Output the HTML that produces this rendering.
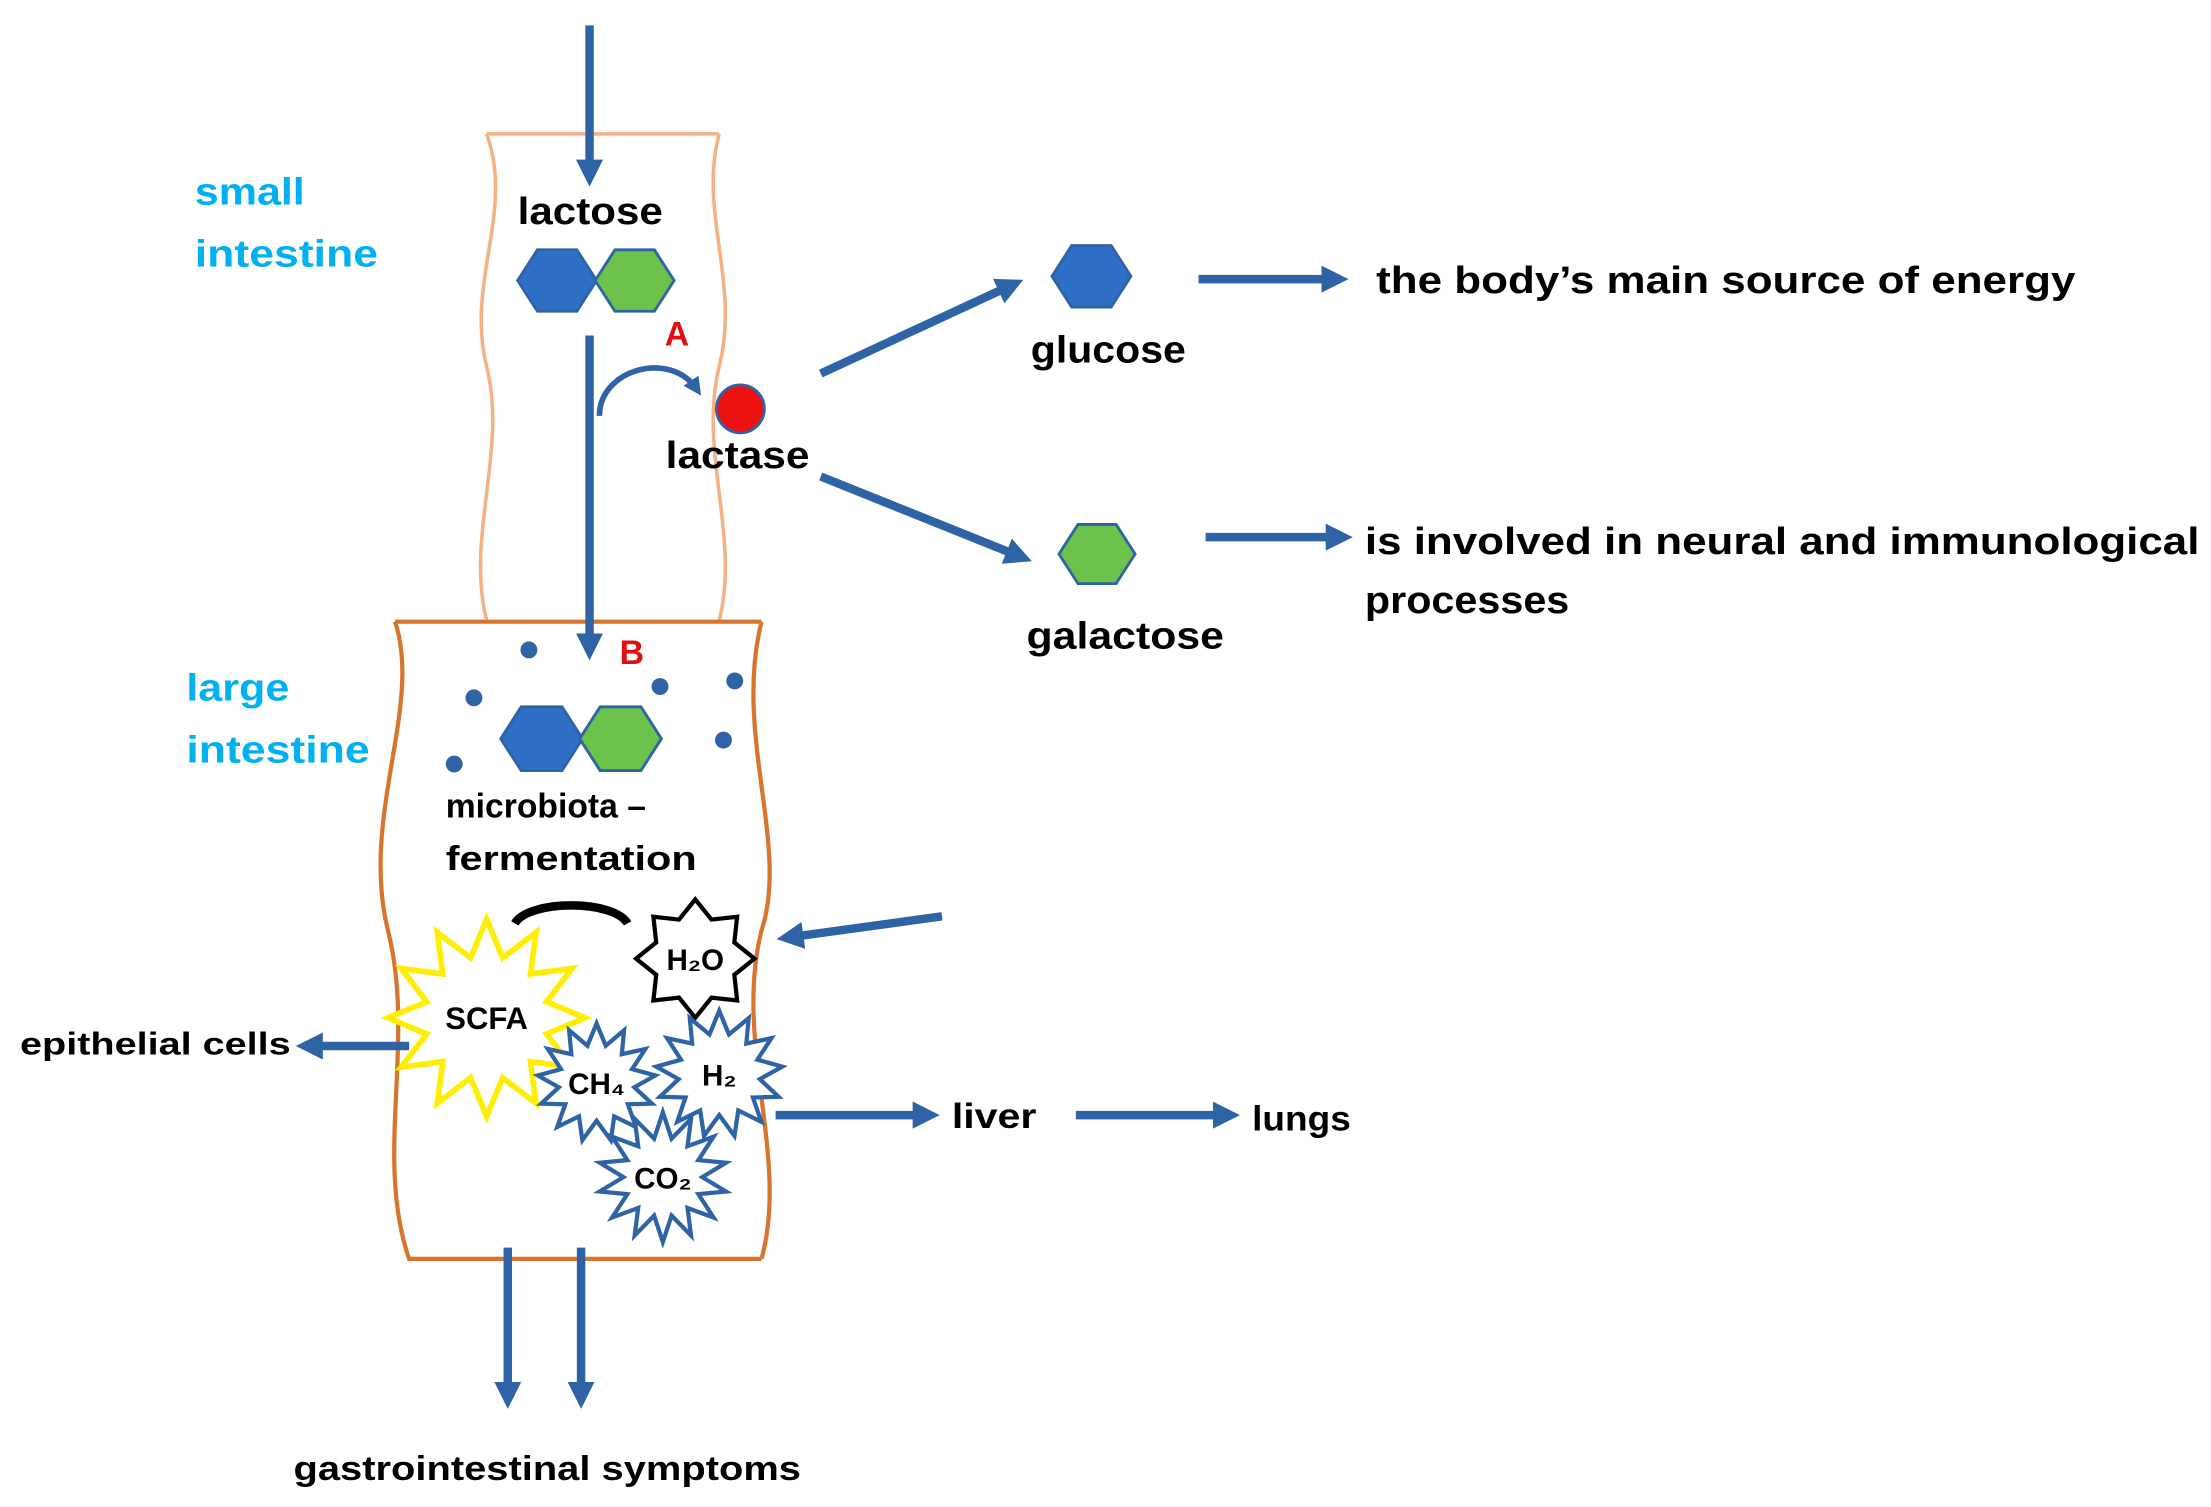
<!DOCTYPE html>
<html><head><meta charset="utf-8"><style>
html,body{margin:0;padding:0;background:#fff;}
svg{display:block;}
text{font-family:"Liberation Sans",sans-serif;font-weight:bold;}
</style></head><body>
<svg id="s" width="2211" height="1507" viewBox="0 0 1568 1069" xmlns="http://www.w3.org/2000/svg">
<defs>
<marker id="ar" markerWidth="3.2" markerHeight="3.2" refX="1.8" refY="1.6" orient="auto" markerUnits="strokeWidth">
<path d="M0,0 L3.2,1.6 L0,3.2 Z" fill="#2e63a6"/></marker>
</defs>
<g fill="none" stroke="#f4b183" stroke-width="2.5">
<path d="M345,95 C365,150 330,200 345,260 C360,320 330,380 345,440"/>
<path d="M510,95 C495,150 525,200 510,260 C495,320 525,380 510,440"/>
<path d="M345,95 L510,95"/>
</g>
<g fill="none" stroke="#d8742e" stroke-width="3">
<path d="M280,441 L540,441"/>
<path d="M280,441 C300,500 255,580 275,660 C295,740 265,820 290,893 L540,893"/>
<path d="M540,441 C520,520 560,600 540,660 C520,740 560,820 540,893"/>
</g>
<g stroke="#2e63a6" stroke-width="6" fill="none" marker-end="url(#ar)">
<line x1="418" y1="18" x2="418" y2="124"/>
<line x1="418" y1="238" x2="418" y2="460"/>
<path d="M425,295 C425,262 475,248 494,276" stroke-width="4"/>
<line x1="582" y1="265" x2="718" y2="202"/>
<line x1="582" y1="338" x2="724" y2="395"/>
<line x1="850" y1="198" x2="948" y2="198"/>
<line x1="855" y1="381" x2="951" y2="381"/>
<line x1="668" y1="650" x2="559" y2="665"/>
<line x1="290" y1="742" x2="218" y2="742"/>
<line x1="550" y1="791" x2="658" y2="791"/>
<line x1="763" y1="791" x2="871" y2="791"/>
<line x1="360" y1="885" x2="360" y2="991"/>
<line x1="412" y1="885" x2="412" y2="991"/>
</g>
<g id="hex"></g>
<circle cx="525" cy="290" r="17" fill="#ee1111" stroke="#2e63a6" stroke-width="2"/>
<g fill="#2e63a6"><circle cx="375" cy="461" r="6"/><circle cx="336" cy="495" r="6"/><circle cx="468" cy="487" r="6"/><circle cx="521" cy="483" r="6"/><circle cx="513" cy="525" r="6"/><circle cx="322" cy="542" r="6"/></g>
<path d="M365,655 C375,638 435,638 445,655" fill="none" stroke="#000" stroke-width="6"/>
<g id="stars"></g>
<g font-size="27" fill="#000" lengthAdjust="spacingAndGlyphs">
<text x="138" y="145" fill="#00b0f0" textLength="78" lengthAdjust="spacingAndGlyphs">small</text>
<text x="138" y="189" fill="#00b0f0" textLength="130" lengthAdjust="spacingAndGlyphs">intestine</text>
<text x="132" y="497" fill="#00b0f0" textLength="73" lengthAdjust="spacingAndGlyphs">large</text>
<text x="132" y="541" fill="#00b0f0" textLength="130" lengthAdjust="spacingAndGlyphs">intestine</text>
<text x="367" y="159" textLength="103" lengthAdjust="spacingAndGlyphs">lactose</text>
<text x="480" y="245" text-anchor="middle" fill="#e01010" font-size="24">A</text>
<text x="448" y="471" text-anchor="middle" fill="#e01010" font-size="24">B</text>
<text x="472" y="332" textLength="102" lengthAdjust="spacingAndGlyphs">lactase</text>
<text x="731" y="257" textLength="110" lengthAdjust="spacingAndGlyphs">glucose</text>
<text x="728" y="460" textLength="140" lengthAdjust="spacingAndGlyphs">galactose</text>
<text x="976" y="208" textLength="496" lengthAdjust="spacingAndGlyphs">the body’s main source of energy</text>
<text x="968" y="393" textLength="592" lengthAdjust="spacingAndGlyphs">is involved in neural and immunological</text>
<text x="968" y="435" textLength="145" lengthAdjust="spacingAndGlyphs">processes</text>
<text x="316" y="580" font-size="24" textLength="142" lengthAdjust="spacingAndGlyphs">microbiota –</text>
<text x="316" y="617" font-size="24" textLength="178" lengthAdjust="spacingAndGlyphs">fermentation</text>
<text x="14" y="748" font-size="22" textLength="192" lengthAdjust="spacingAndGlyphs">epithelial cells</text>
<text x="675" y="800" font-size="25" textLength="60" lengthAdjust="spacingAndGlyphs">liver</text>
<text x="888" y="802" font-size="25" textLength="70" lengthAdjust="spacingAndGlyphs">lungs</text>
<text x="208" y="1050" font-size="24" textLength="360" lengthAdjust="spacingAndGlyphs">gastrointestinal symptoms</text>
<text x="345" y="730" text-anchor="middle" font-size="22">SCFA</text>
<text x="493" y="688" text-anchor="middle" font-size="21">H₂O</text>
<text x="423" y="776" text-anchor="middle" font-size="21">CH₄</text>
<text x="510" y="770" text-anchor="middle" font-size="21">H₂</text>
<text x="470" y="843" text-anchor="middle" font-size="21">CO₂</text>
</g>
</svg>
<script>
var NS="http://www.w3.org/2000/svg";
function hex(cx,cy,r,fill){var p=[];for(var i=0;i<6;i++){var a=Math.PI/3*i;p.push((cx+r*Math.cos(a)).toFixed(1)+","+(cy+r*0.9*Math.sin(a)).toFixed(1));}
var e=document.createElementNS(NS,"polygon");e.setAttribute("points",p.join(" "));e.setAttribute("fill",fill);e.setAttribute("stroke","#2e63a6");e.setAttribute("stroke-width","2");document.getElementById("hex").appendChild(e);}
var B="#2f6fc6",G="#6cc24a";
hex(395,199,28,B);hex(450,199,28,G);hex(774,196,28,B);hex(778,393,27,G);hex(384,524,29,B);hex(440,524,29,G);
function star(cx,cy,ro,ri,n,fill,stroke,sw){var p=[];for(var i=0;i<2*n;i++){var r=i%2?ri:ro;var a=Math.PI*i/n-Math.PI/2;p.push((cx+r*Math.cos(a)).toFixed(1)+","+(cy+r*Math.sin(a)).toFixed(1));}
var e=document.createElementNS(NS,"polygon");e.setAttribute("points",p.join(" "));e.setAttribute("fill",fill);e.setAttribute("stroke",stroke);e.setAttribute("stroke-width",sw);document.getElementById("stars").appendChild(e);}
star(345,722,70,44,12,"#fff","#ffee00",4);
star(493,680,42,30,8,"#fff","#000",3);
star(423,768,42,27,13,"#fff","#2e63a6",3);
star(510,762,45,29,13,"#fff","#2e63a6",3);
star(470,835,46,28,14,"#fff","#2e63a6",3);
</script>
</body></html>
